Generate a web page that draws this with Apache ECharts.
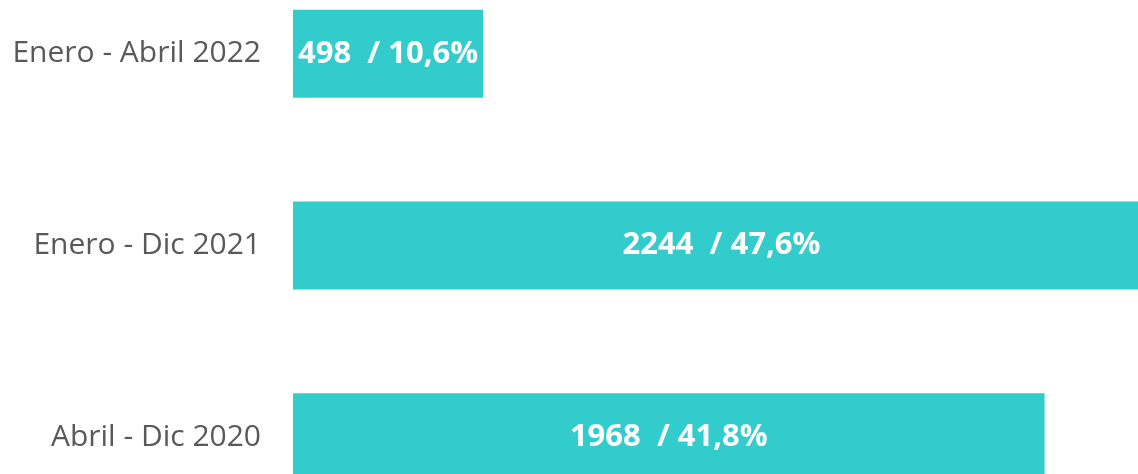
<!DOCTYPE html>
<html>
<head>
<meta charset="utf-8">
<script src="https://cdn.jsdelivr.net/npm/echarts@6/dist/echarts.min.js"></script>
<style>
    html, body { margin: 0; padding: 0; background: #fff; }
    #chart { width: 1138px; height: 474px; }
</style>
</head>
<body>
<div id="chart"></div>
<script>
// datos del grafico (de abajo hacia arriba)
var categorias = ['Abril - Dic 2020', 'Enero - Dic 2021', 'Enero - Abril 2022'];
var casos = [1968, 2244, 498];
var porcentajes = ['41,8%', '47,6%', '10,6%'];

var chart = echarts.init(document.getElementById('chart'));

var option = {
    animation: false,
    grid: {
        left: 293,
        top: -42,
        width: 857,
        height: 575,
        outerBoundsMode: 'none'
    },
    xAxis: {
        type: 'value',
        min: 0,
        max: 2244,
        show: false
    },
    yAxis: {
        type: 'category',
        data: categorias,
        axisLine: {show: false},
        axisTick: {show: false},
        axisLabel: {
            margin: 32,
            color: '#595959',
            fontFamily: 'Open Sans',
            fontSize: 30
        }
    },
    series: [{
        type: 'bar',
        data: casos,
        barWidth: 88,
        itemStyle: {color: '#33cccc'},
        label: {
            show: true,
            position: 'inside',
            color: '#fff',
            fontFamily: 'Open Sans',
            fontWeight: 'bold',
            fontSize: 31,
            formatter: function (p) {
                return p.value + '  / ' + porcentajes[p.dataIndex];
            }
        }
    }]
};
chart.setOption(option);
</script>
</body>
</html>
